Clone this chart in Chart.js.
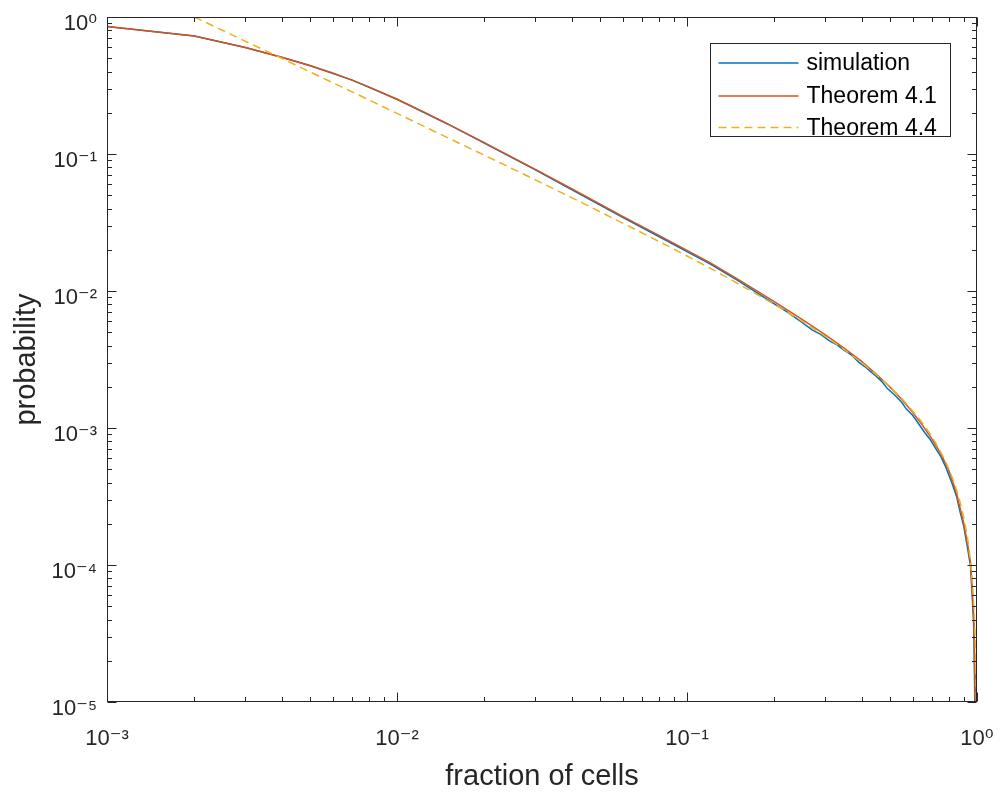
<!DOCTYPE html>
<html>
<head>
<meta charset="utf-8">
<script src="https://cdn.jsdelivr.net/npm/chart.js@4.4.1/dist/chart.umd.min.js"></script>
<style>
  html, body { margin: 0; padding: 0; background: #ffffff; overflow: hidden; }
  #wrap { position: relative; width: 1002px; height: 795px; }
  canvas { display: block; }
</style>
</head>
<body>
<div id="wrap"><canvas id="c"></canvas></div>
<script>
// ---- tick values ----
const X_TICKS = [0.001, 0.01, 0.1, 1];
const Y_TICKS = [1e-5, 1e-4, 1e-3, 1e-2, 1e-1, 1];

// ---- series: simulation ----
const SIM_X = [0.001, 0.002, 0.003, 0.004, 0.005, 0.007, 0.01, 0.015, 0.02, 0.03, 0.04, 0.06, 0.08, 0.1, 0.12, 0.15, 0.18, 0.2, 0.22, 0.25, 0.27, 0.29, 0.31, 0.33, 0.35, 0.37, 0.39, 0.41, 0.43, 0.45, 0.47, 0.49, 0.52, 0.55, 0.57, 0.6, 0.63, 0.66, 0.69, 0.72, 0.75, 0.78, 0.82, 0.85, 0.875, 0.9, 0.93, 0.95, 0.965, 0.974, 0.98, 0.984];
const SIM_Y = [0.851, 0.727, 0.598, 0.509, 0.443, 0.346, 0.251, 0.165, 0.12, 0.0765, 0.055, 0.0345, 0.025, 0.0194, 0.0158, 0.0119, 0.00928, 0.00805, 0.0071, 0.00588, 0.00521, 0.00481, 0.00432, 0.00403, 0.00367, 0.0034, 0.00304, 0.00281, 0.00258, 0.00238, 0.00218, 0.00195, 0.00174, 0.00154, 0.00138, 0.00124, 0.00107, 0.000928, 0.000824, 0.000711, 0.00062, 0.00052, 0.000395, 0.000318, 0.000242, 0.000192, 0.000129, 0.0000978, 0.000054, 0.000036, 0.000016, 0.000008];

// ---- series: Theorem 4.1 ----
const T41_X = [0.001, 0.002, 0.003, 0.004, 0.005, 0.006, 0.007, 0.008, 0.01, 0.0125, 0.015, 0.02, 0.03, 0.04, 0.06, 0.08, 0.1, 0.12, 0.15, 0.2, 0.25, 0.3, 0.35, 0.4, 0.45, 0.5, 0.55, 0.6, 0.65, 0.7, 0.75, 0.8, 0.85, 0.9, 0.93, 0.95, 0.965, 0.975, 0.982, 0.9874, 0.99];
const T41_Y = [0.851, 0.727, 0.598, 0.509, 0.443, 0.390, 0.346, 0.309, 0.251, 0.2006, 0.165, 0.121, 0.0773, 0.0558, 0.0351, 0.0255, 0.0198, 0.0161, 0.01216, 0.00835, 0.00618, 0.00479, 0.0038, 0.00306, 0.00247, 0.002, 0.00162, 0.0013, 0.00104, 0.00083, 0.00065, 0.000489, 0.000334, 0.000202, 0.000138, 0.000103, 0.00006, 0.000042, 0.0000186, 0.0000103, 0.000005];

// ---- series: Theorem 4.4 ----
const T44_X = [0.002, 0.0025, 0.003, 0.004, 0.005, 0.007, 0.01, 0.015, 0.02, 0.03, 0.04, 0.06, 0.08, 0.1, 0.12, 0.15, 0.2, 0.25, 0.3, 0.35, 0.4, 0.45, 0.5, 0.55, 0.6, 0.65, 0.7, 0.75, 0.8, 0.85, 0.9, 0.93, 0.95, 0.965, 0.975, 0.982, 0.99, 0.995, 0.997];
const T44_Y = [1.0, 0.80, 0.665, 0.50, 0.398, 0.284, 0.198, 0.131, 0.098, 0.0647, 0.048, 0.0313, 0.023, 0.018, 0.0147, 0.0113, 0.008, 0.006, 0.00467, 0.00371, 0.003, 0.00244, 0.002, 0.00164, 0.00133, 0.00108, 0.000857, 0.000667, 0.0005, 0.000353, 0.000222, 0.000151, 0.000105, 0.0000725, 0.0000513, 0.0000367, 0.0000202, 0.0000101, 0.000006];

const SERIES_LABELS = ['simulation', 'Theorem 4.1', 'Theorem 4.4'];
const X_TITLE = 'fraction of cells';
const Y_TITLE = 'probability';

const FONT = "'Liberation Sans', Arial, Helvetica, 'DejaVu Sans', sans-serif";
const AXIS_COLOR = '#262626';

const SUP = {'-': '\u207B', '0': '\u2070', '1': '\u00B9', '2': '\u00B2', '3': '\u00B3', '4': '\u2074', '5': '\u2075', '6': '\u2076', '7': '\u2077', '8': '\u2078', '9': '\u2079'};
function powLabel(v) {
  const e = Math.round(Math.log10(v));
  return '10' + String(e).split('').map(ch => SUP[ch]).join('');
}
function pts(xs, ys) { return xs.map((x, i) => ({x: x, y: ys[i]})); }
function minorsOf(ticks) {
  const out = [];
  for (let i = 0; i < ticks.length - 1; i++) for (let k = 2; k <= 9; k++) out.push(ticks[i] * k);
  return out;
}

const axisDecor = {
  id: 'axisDecor',
  afterDraw(chart) {
    const {ctx, chartArea: a, scales: {x, y}} = chart;
    const majL = 9, minL = 4.5;
    ctx.save();
    ctx.strokeStyle = AXIS_COLOR;
    ctx.lineWidth = 1;
    ctx.beginPath();
    const L = Math.round(a.left) + 0.5, R = Math.round(a.right) - 0.5;
    const T = Math.round(a.top) + 0.5, B = Math.round(a.bottom) - 0.5;
    const xt = (vals, len) => vals.forEach(v => {
      const p = Math.round(x.getPixelForValue(v)) + 0.5;
      ctx.moveTo(p, B); ctx.lineTo(p, B - len);
      ctx.moveTo(p, T); ctx.lineTo(p, T + len);
    });
    const yt = (vals, len) => vals.forEach(v => {
      const p = Math.round(y.getPixelForValue(v)) + 0.5;
      ctx.moveTo(L, p); ctx.lineTo(L + len, p);
      ctx.moveTo(R, p); ctx.lineTo(R - len, p);
    });
    xt(X_TICKS, majL); xt(minorsOf(X_TICKS), minL);
    yt(Y_TICKS, majL); yt(minorsOf(Y_TICKS), minL);
    ctx.stroke();
    ctx.strokeRect(L, T, R - L, B - T);
    ctx.restore();
  }
};

const legendBox = {
  id: 'legendBox',
  afterDraw(chart) {
    const {ctx, chartArea: a} = chart;
    const w = 240, h = 93;
    const x0 = Math.round(a.right - 27 - w) + 0.5;
    const y0 = Math.round(a.top + 26) + 0.5;
    ctx.save();
    ctx.fillStyle = '#ffffff';
    ctx.fillRect(x0, y0, w, h);
    ctx.strokeStyle = AXIS_COLOR;
    ctx.lineWidth = 1;
    ctx.strokeRect(x0, y0, w, h);
    const rows = [19.5, 52.5, 84];
    chart.data.datasets.forEach((ds, i) => {
      const yy = y0 + rows[i];
      ctx.beginPath();
      ctx.strokeStyle = ds.borderColor;
      ctx.lineWidth = ds.borderWidth;
      ctx.setLineDash(ds.borderDash || []);
      ctx.moveTo(x0 + 8, yy);
      ctx.lineTo(x0 + 88, yy);
      ctx.stroke();
      ctx.setLineDash([]);
      ctx.fillStyle = '#000000';
      ctx.font = '23px ' + FONT;
      ctx.textBaseline = 'middle';
      ctx.textAlign = 'left';
      ctx.fillText(ds.label, x0 + 96, yy + 1);
    });
    ctx.restore();
  }
};

const hiddenGrid = { display: true, drawOnChartArea: false, drawTicks: true, color: 'rgba(0,0,0,0)', tickColor: 'rgba(0,0,0,0)' };

new Chart(document.getElementById('c'), {
  type: 'line',
  data: {
    datasets: [
      { label: SERIES_LABELS[0], data: pts(SIM_X, SIM_Y), borderColor: '#0072BD', borderWidth: 1.5, pointRadius: 0, tension: 0, fill: false, order: 3 },
      { label: SERIES_LABELS[1], data: pts(T41_X, T41_Y), borderColor: '#D95319', borderWidth: 1.5, pointRadius: 0, tension: 0, fill: false, order: 2 },
      { label: SERIES_LABELS[2], data: pts(T44_X, T44_Y), borderColor: '#EDB120', borderWidth: 1.5, borderDash: [8, 5], pointRadius: 0, cubicInterpolationMode: 'monotone', fill: false, order: 1 }
    ]
  },
  options: {
    responsive: true,
    maintainAspectRatio: false,
    animation: false,
    events: [],
    layout: { autoPadding: false, padding: { top: 17, right: 25, left: 0, bottom: 0 } },
    plugins: { legend: { display: false }, tooltip: { enabled: false } },
    scales: {
      x: {
        type: 'logarithmic', min: 0.001, max: 1, position: 'bottom',
        afterBuildTicks: s => { s.ticks = X_TICKS.map(v => ({value: v, major: true})); },
        afterFit: s => { s.height = 93; },
        grid: Object.assign({ tickLength: 20 }, hiddenGrid),
        border: { display: false },
        ticks: { callback: v => powLabel(v), font: { family: FONT, size: 22 }, color: AXIS_COLOR, padding: 4, maxRotation: 0, autoSkip: false },
        title: { display: true, text: X_TITLE, font: { family: FONT, size: 29 }, color: AXIS_COLOR, padding: { top: 0, bottom: 1 } }
      },
      y: {
        type: 'logarithmic', min: 1e-5, max: 1, position: 'left',
        afterBuildTicks: s => { s.ticks = Y_TICKS.map(v => ({value: v, major: true})); },
        afterFit: s => { s.width = 107; },
        grid: Object.assign({ tickLength: 10 }, hiddenGrid),
        border: { display: false },
        ticks: { callback: v => powLabel(v), font: { family: FONT, size: 22 }, color: AXIS_COLOR, padding: 0, labelOffset: 7, autoSkip: false },
        title: { display: true, text: Y_TITLE, font: { family: FONT, size: 29 }, color: AXIS_COLOR, padding: { top: 10, bottom: 0 } }
      }
    }
  },
  plugins: [axisDecor, legendBox]
});
</script>
</body>
</html>
